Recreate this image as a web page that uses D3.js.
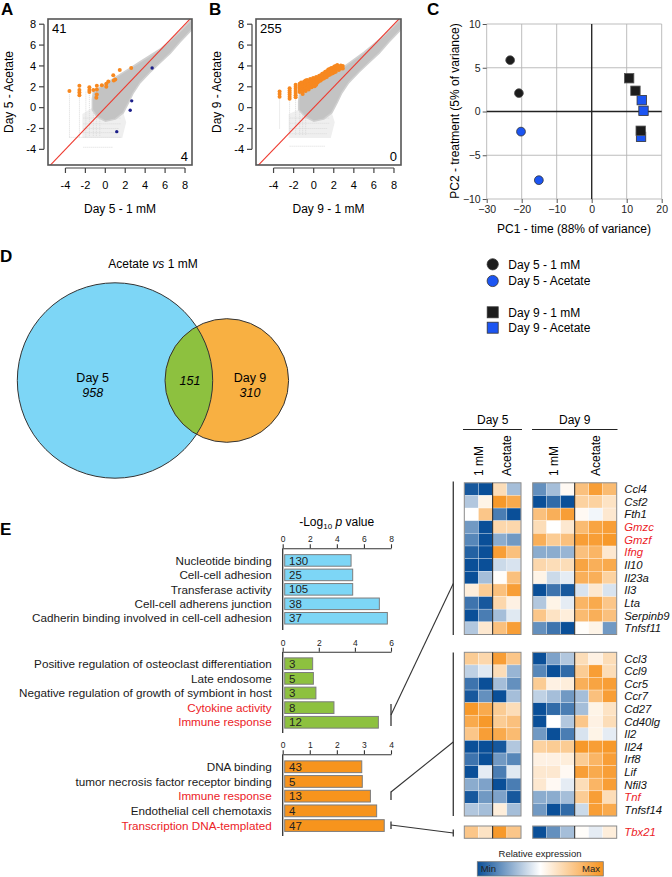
<!DOCTYPE html>
<html><head><meta charset="utf-8">
<script src="https://cdn.jsdelivr.net/npm/d3@7"></script>
<style>
body{margin:0;background:#fff;}
svg{display:block;font-family:"Liberation Sans",Arial,Helvetica,sans-serif;}
</style></head><body>
<svg id="fig" width="672" height="877"></svg>
<script>
// ================= DATA =================
const scatterTicks = [-4,-2,0,2,4,6,8];
// Panel A
const countsA = {up: 41, down: 4};
const cloudA = [[-1.3,0.8],[-1.2,1.5],[-0.5,2.0],[0.5,2.6],[1.5,3.2],[2.5,3.8],[3.5,4.4],[4.5,5.0],[5.5,5.6],[6.5,6.4],[7.5,7.3],[8.8,8.6],[8.8,7.6],[7.5,6.3],[6.5,5.2],[5.5,4.3],[4.5,3.4],[3.5,2.4],[2.8,1.4],[2.3,0.4],[1.8,-0.5],[1,-1.1],[0,-1.3],[-0.8,-0.9],[-1.3,-0.2]];
const sparseA = [[-2.3,-0.6],[-1.3,0.0],[-0.8,-0.9],[0,-1.3],[1,-1.1],[1.8,-0.5],[2.1,-1.4],[1.7,-2.9],[-2.3,-2.9]];
const stripesVA = [[-3.6,-2.85,1.3],[-2.6,-2.85,1.9],[-1.95,-2.85,1.6],[-1.6,-2.7,1.9],[-1.2,-2.7,1.6],[-0.9,-2.7,1.4],[-0.55,-2.7,1.0]];
const stripesHA = [[-1.0,-2.2,1.6],[-1.55,-2.2,1.6],[-2.0,-2.2,1.4],[-2.4,-2.2,1.3],[-2.85,-3.6,1.6],[-3.8,-2.2,0.8]];
const orangeA = [[-3.6,1.6],[-2.6,2.1],[-2.6,1.7],[-2.6,1.45],[-2.6,1.2],[-1.6,1.95],[-1.6,1.7],[-1.6,1.5],[-1.2,1.7],[-0.85,2.1],[-0.85,1.75],[-0.85,1.25],[-0.9,0.95],[-0.35,2.15],[0.1,2.0],[0.1,2.3],[0.3,2.5],[0.8,3.1],[1.0,2.7],[0.85,2.6],[1.45,3.6],[2.6,3.8]];
const blueA = [[4.7,3.8],[2.65,0.65],[2.5,-0.25],[1.15,-2.3]];
// Panel B
const countsB = {up: 255, down: 0};
const cloudB = [[-1.5,0.6],[-1.4,1.4],[-0.8,1.9],[0,2.2],[1,2.7],[2,3.3],[3,3.9],[4,4.6],[5,5.3],[6,6.1],[7,6.9],[8.8,8.6],[8.8,7.6],[7.5,6.3],[6.5,5.2],[5.5,4.3],[4.5,3.4],[3.5,2.4],[2.8,1.4],[2.3,0.4],[1.8,-0.5],[1,-1.1],[0,-1.3],[-0.8,-0.9],[-1.5,-0.2]];
const sparseB = [[-2.5,-0.6],[-1.5,-0.2],[-0.8,-0.9],[0,-1.3],[1,-1.1],[1.8,-0.5],[2.1,-1.4],[1.7,-2.9],[-2.5,-2.9]];
const stripesVB = [[-3.4,-2.0,1.0],[-2.4,-2.4,0.8],[-1.8,-2.6,1.0],[-1.4,-2.6,1.4],[-1.1,-2.6,1.2],[-0.8,-2.6,1.5]];
const stripesHB = [[-1.0,-2.4,1.6],[-1.5,-2.4,1.6],[-2.0,-2.4,1.4],[-2.5,-2.4,1.3],[-3.7,-2.4,1.1]];
const orangeBcols = [
  [-3.4,[1.55,1.3,1.05]],
  [-2.4,[1.85,1.65,1.45,1.25,1.05,0.85]],
  [-1.8,[2.2,2.0,1.8,1.6,1.4,1.2,1.0]],
  [-1.4,[2.3,2.1,1.9,1.7,1.5]],
  [-1.25,[2.4,2.15,1.95,1.7]],
  [-1.1,[2.2,2.0,1.8,1.55,1.3]],
  [-0.95,[2.5,2.25,2.0,1.75]],
  [-0.8,[2.6,2.35,2.1,1.85,1.6]],
  [-0.65,[2.65,2.4,2.15,1.9]],
  [-0.5,[2.5,2.25,2.0,1.75]],
  [-0.35,[2.75,2.5,2.25,2.0]],
  [-0.2,[2.7,2.45,2.2,1.95]],
  [-0.05,[2.85,2.6,2.35,2.1]],
  [0.1,[2.8,2.55,2.3,2.05]],
  [0.25,[2.95,2.7,2.45,2.2]],
  [0.4,[2.9,2.65,2.4]],
  [0.55,[3.05,2.8,2.55]],
  [0.7,[3.1,2.85,2.6]],
  [0.85,[3.25,3.0,2.75]],
  [1.0,[3.3,3.05,2.8]],
  [1.15,[3.45,3.15,2.9]],
  [1.3,[3.5,3.2,2.95]],
  [1.45,[3.65,3.35,3.1]],
  [1.6,[3.7,3.4,3.15]],
  [1.75,[3.8,3.5,3.25]],
  [1.9,[3.8,3.55,3.3]],
  [2.05,[3.95,3.65,3.4]],
  [2.2,[4.0,3.7,3.45]],
  [2.35,[4.1,3.8]],
  [2.5,[3.85,3.6]],
  [2.7,[4.05,3.75]],
  [2.9,[4.0,3.75]]
];
// Panel C (PCA)
const pcaGroups = ["Day 5 - 1 mM","Day 5 - Acetate","Day 9 - 1 mM","Day 9 - Acetate"];
const pcaD5_1mM = [[-23.3,5.87],[-20.8,2.1]];
const pcaD5_Ac  = [[-20.2,-2.3],[-15.1,-7.85]];
const pcaD9_1mM = [[10.7,3.8],[12.5,2.37],[14.0,-2.2]];
const pcaD9_Ac  = [[14.3,1.3],[14.8,0.08],[14.1,-2.9]];
const pcaXTicks = [-30,-20,-10,0,10,20];
const pcaYTicks = [-10,-5,0,5,10];
// Panel D (Venn)
const vennSets = ["Day 5","Day 9"];
const vennOnly = [958, 310];
const vennShared = 151;
// Panel E (GO bars)
const goTopTerms = ["Nucleotide binding","Cell-cell adhesion","Transferase activity","Cell-cell adherens junction","Cadherin binding involved in cell-cell adhesion"];
const goTopLogP = [5.05,5.17,5.17,7.14,7.73];
const goTopCounts = [130,25,105,38,37];
const goTopTicks = [0,2,4,6,8];
const goMidTerms = ["Positive regulation of osteoclast differentiation","Late endosome","Negative regulation of growth of symbiont in host","Cytokine activity","Immune response"];
const goMidLogP = [1.66,1.70,1.84,2.84,5.3];
const goMidCounts = [3,5,3,8,12];
const goMidTicks = [0,2,4,6];
const goBotTerms = ["DNA binding","tumor necrosis factor receptor binding","Immune response","Endothelial cell chemotaxis","Transcription DNA-templated"];
const goBotLogP = [2.92,2.94,3.24,3.47,3.75];
const goBotCounts = [43,5,13,4,47];
const goBotTicks = [0,1,2,3,4];
const highlightedTerms = ["Cytokine activity","Immune response","Transcription DNA-templated"];
// Heatmap
const heatCols5 = ["1 mM","1 mM ","Acetate","Acetate "];
const heatCols9 = ["1 mM","1 mM ","1 mM  ","Acetate","Acetate ","Acetate  "];
const heatTopGenes = ["Ccl4","Csf2","Fth1","Gmzc","Gmzf","Ifng","Il10","Il23a","Il3","Lta","Serpinb9","Tnfsf11"];
const heatTopDay5 = [
 [-0.9,-0.95,0.3,-0.35],[-0.3,0.1,0.9,0.75],[0,0.5,-0.7,-0.95],[-0.55,-0.95,0.35,0.35],
 [-0.65,-0.95,-0.45,-0.55],[-0.85,-0.95,0.85,0.55],[-0.95,-0.95,-0.2,-0.15],[-0.95,-0.35,0.02,0.55],
 [0.15,0.45,0.55,0.85],[-0.75,-0.9,0.35,0.12],[-0.95,-0.7,-0.35,-0.12],[-0.3,0.2,0.55,0.85]];
const heatTopDay9 = [
 [-0.6,-0.35,0.05,0.55,0.85,0.6],[-0.95,-0.8,-0.95,0.4,0.4,0.25],[0.55,0.7,0.85,0.05,-0.05,0.2],
 [0.3,0,0.2,0.6,0.8,0.85],[0.7,0.45,0.55,0.85,0.85,0.9],[-0.45,-0.45,-0.4,0.55,0.65,0.2],
 [0.35,0.3,0.3,0.8,0.7,0.75],[0.1,-0.2,-0.1,0.7,0.7,0.4],[-0.95,-0.75,-0.9,-0.15,0.2,-0.15],
 [-0.3,0.1,-0.1,0.65,0.75,0.5],[0.5,0.25,0.15,0.6,0.7,0.55],[-0.6,-0.75,-0.95,0.02,0.1,-0.55]];
const heatMidGenes = ["Ccl3","Ccl9","Ccr5","Ccr7","Cd27","Cd40lg","Il2","Il24","Irf8","Lif","Nfil3","Tnf","Tnfsf14"];
const heatMidDay5 = [
 [0.45,0.35,0.85,0.5],[-0.25,-0.12,0.3,-0.4],[-0.75,-0.95,-0.35,-0.6],[-0.9,-0.6,-0.95,-0.35],
 [0.9,0.75,0.45,0.3],[0.75,0.9,0.45,0.55],[0.5,0.85,0.75,0.6],[-0.95,-0.95,-0.9,-0.3],
 [-0.75,-0.95,-0.55,-0.65],[-0.95,-0.1,-0.7,-0.12],[-0.45,-0.5,-0.95,-0.7],[-0.9,-0.55,-0.5,-0.9],
 [-0.3,-0.35,0.15,-0.35]];
const heatMidDay9 = [
 [-0.95,-0.5,-0.3,0.3,0.12,0.3],[-0.65,-0.95,-0.8,0.45,0.85,0.3],[0.45,0.12,0.15,0.7,0.8,0.85],
 [-0.25,-0.35,-0.55,-0.35,0.55,0.85],[-0.95,-0.8,-0.7,-0.35,0.1,0.25],[-0.95,0,-0.3,0.5,0.12,0.3],
 [-0.55,-0.95,-0.7,-0.15,0.1,-0.1],[0.4,0.45,0.45,0.9,0.85,0.9],[0.12,0.12,0.15,0.45,0.65,0.85],
 [0.2,0.2,0.05,0.85,0.75,0.85],[0.2,0.05,-0.1,0.3,0.65,0.85],[-0.45,-0.45,-0.35,0.45,0.85,0.3],
 [-0.55,-0.95,-0.8,-0.2,0.85,0.75]];
const heatBotGenes = ["Tbx21"];
const heatBotDay5 = [[0.5,0.25,0.9,0.5]];
const heatBotDay9 = [[-0.95,-0.6,-0.35,0.02,-0.1,0.15]];
const redGenes = ["Gmzc","Gmzf","Ifng","Tnf","Tbx21"];

// ================= DRAWING =================
const svg = d3.select("#fig");
const RED = "#ec2227";
const defs = svg.append("defs");

[["A",1,15],["B",209,15],["C",427,15],["D",0,262],["E",0,535]].forEach(([t,x,y])=>{
  svg.append("text").attr("x",x).attr("y",y).attr("font-size",17).attr("font-weight","bold").text(t);
});

function line2(g,x1,y1,x2,y2,stroke,w,dash){
  const l=g.append("line").attr("x1",x1).attr("y1",y1).attr("x2",x2).attr("y2",y2).attr("stroke",stroke).attr("stroke-width",w);
  if(dash) l.attr("stroke-dasharray",dash);
  return l;
}

// ---------- Scatter panels A,B ----------
function scatter(cfg){
  const x = d3.scaleLinear().domain([-5.75,8.7]).range([cfg.x0,cfg.x1]);
  const y = d3.scaleLinear().domain([-5.5,8.5]).range([165,19]);
  const g = svg.append("g");
  defs.append("clipPath").attr("id","clip"+cfg.id).append("rect")
    .attr("x",cfg.x0).attr("y",19).attr("width",cfg.x1-cfg.x0).attr("height",146);
  const inner = g.append("g").attr("clip-path",`url(#clip${cfg.id})`);
  const ln = d3.line().x(d=>x(d[0])).y(d=>y(d[1])).curve(d3.curveLinearClosed);
  inner.append("path").attr("d",ln(cfg.sparse)).attr("fill","#efefef");
  cfg.stripesV.forEach(s=>line2(inner,x(s[0]),y(s[1]),x(s[0]),y(s[2]),"#d9d9d9",1,"1,1"));
  cfg.stripesH.forEach(s=>line2(inner,x(s[1]),y(s[0]),x(s[2]),y(s[0]),"#dadada",1,"1,1"));
  inner.append("path").attr("d",ln(cfg.cloud)).attr("fill","#c3c3c3").attr("stroke","#d0d0d0").attr("stroke-width",1.5).attr("stroke-linejoin","round");
  line2(inner,x(-6),y(-6),x(9),y(9),"#ee3a2f",1.1);
  inner.selectAll(".o").data(cfg.orange).join("circle").attr("cx",d=>x(d[0])).attr("cy",d=>y(d[1])).attr("r",cfg.or).attr("fill","#f7881f");
  inner.selectAll(".b").data(cfg.blue).join("circle").attr("cx",d=>x(d[0])).attr("cy",d=>y(d[1])).attr("r",1.7).attr("fill","#1c1f8a");
  g.append("rect").attr("x",cfg.x0).attr("y",19).attr("width",cfg.x1-cfg.x0).attr("height",146)
    .attr("fill","none").attr("stroke","#555").attr("stroke-width",1.6);
  const ax = cfg.x0-4;
  line2(g,ax,y(-4),ax,y(8),"#444",1.2);
  scatterTicks.forEach(t=>{
    line2(g,ax-5,y(t),ax,y(t),"#444",1.2);
    g.append("text").attr("x",ax-8).attr("y",y(t)).attr("dy","0.35em").attr("text-anchor","end").attr("font-size",11).text(t);
  });
  const ay = 168;
  line2(g,x(-4),ay,x(8),ay,"#444",1.2);
  scatterTicks.forEach(t=>{
    line2(g,x(t),ay,x(t),ay+5,"#444",1.2);
    g.append("text").attr("x",x(t)).attr("y",189).attr("text-anchor","middle").attr("font-size",11).text(t);
  });
  g.append("text").attr("x",cfg.x0+4).attr("y",33).attr("font-size",13).text(cfg.up);
  g.append("text").attr("x",cfg.x1-4).attr("y",161).attr("text-anchor","end").attr("font-size",13).text(cfg.down);
  g.append("text").attr("x",(cfg.x0+cfg.x1)/2).attr("y",213).attr("text-anchor","middle").attr("font-size",12).text(cfg.xlab);
  g.append("text").attr("transform",`translate(${cfg.ylx},92) rotate(-90)`).attr("text-anchor","middle").attr("dy","0.35em").attr("font-size",12).text(cfg.ylab);
}
scatter({id:"A",x0:48,x1:192,cloud:cloudA,sparse:sparseA,stripesV:stripesVA,stripesH:stripesHA,orange:orangeA,or:2,blue:blueA,up:countsA.up,down:countsA.down,xlab:"Day 5 - 1 mM",ylab:"Day 5 - Acetate",ylx:9});
const orangeB = orangeBcols.flatMap(([xv,ys])=>ys.map(yv=>[xv,yv]));
scatter({id:"B",x0:256,x1:401,cloud:cloudB,sparse:sparseB,stripesV:stripesVB,stripesH:stripesHB,orange:orangeB,or:2,blue:[],up:countsB.up,down:countsB.down,xlab:"Day 9 - 1 mM",ylab:"Day 9 - Acetate",ylx:217});

// ---------- Panel C PCA ----------
(function(){
  const x = d3.scaleLinear().domain([-30,20]).range([486.7,661.7]);
  const y = d3.scaleLinear().domain([-10,10]).range([199,24]);
  const g = svg.append("g");
  pcaXTicks.forEach(t=>line2(g,x(t),y(10),x(t),y(-10),"#b5b5b5",0.9));
  pcaYTicks.forEach(t=>line2(g,x(-30),y(t),x(20),y(t),"#b5b5b5",0.9));
  line2(g,x(0),y(10),x(0),y(-10),"#222",1.3);
  line2(g,x(-30),y(0),x(20),y(0),"#222",1.3);
  const ya = g.append("g").attr("transform",`translate(${x(-30)},0)`)
    .call(d3.axisLeft(y).tickValues(pcaYTicks).tickSize(4).tickPadding(2));
  const xa = g.append("g").attr("transform",`translate(0,${y(-10)})`)
    .call(d3.axisBottom(x).tickValues(pcaXTicks).tickSize(4).tickPadding(3));
  [ya,xa].forEach(a=>{a.select(".domain").remove();a.selectAll("text").attr("font-size",10.5).attr("font-family",null).attr("fill","#222");a.selectAll("line").attr("stroke","#555");});
  g.append("text").attr("x",574).attr("y",233).attr("text-anchor","middle").attr("font-size",12).text("PC1 - time (88% of variance)");
  g.append("text").attr("transform","translate(455,111) rotate(-90)").attr("text-anchor","middle").attr("dy","0.35em").attr("font-size",12).text("PC2 - treatment (5% of variance)");
  const sq=9.4;
  g.selectAll(".bs").data(pcaD9_Ac).join("rect").attr("x",d=>x(d[0])-sq/2).attr("y",d=>y(d[1])-sq/2).attr("width",sq).attr("height",sq).attr("fill","#1c55f2").attr("stroke","#333").attr("stroke-width",0.8);
  g.selectAll(".ks").data(pcaD9_1mM).join("rect").attr("x",d=>x(d[0])-sq/2).attr("y",d=>y(d[1])-sq/2).attr("width",sq).attr("height",sq).attr("fill","#1c1c1c").attr("stroke","#555").attr("stroke-width",0.8);
  g.selectAll(".bc").data(pcaD5_Ac).join("circle").attr("cx",d=>x(d[0])).attr("cy",d=>y(d[1])).attr("r",4.4).attr("fill","#1c55f2").attr("stroke","#333").attr("stroke-width",0.8);
  g.selectAll(".kc").data(pcaD5_1mM).join("circle").attr("cx",d=>x(d[0])).attr("cy",d=>y(d[1])).attr("r",4.4).attr("fill","#1c1c1c").attr("stroke","#555").attr("stroke-width",0.8);
  const ly = [264.3,281,312.3,327.7];
  pcaGroups.forEach((name,i)=>{
    const fill = i%2===0 ? "#1c1c1c" : "#1c55f2";
    if(i<2) g.append("circle").attr("cx",492.7).attr("cy",ly[i]).attr("r",5.6).attr("fill",fill).attr("stroke","#333").attr("stroke-width",0.8);
    else g.append("rect").attr("x",487.2).attr("y",ly[i]-5.5).attr("width",11).attr("height",11).attr("fill",fill).attr("stroke","#333").attr("stroke-width",0.8);
    g.append("text").attr("x",508.3).attr("y",ly[i]).attr("dy","0.35em").attr("font-size",12).text(name);
  });
})();

// ---------- Panel D Venn ----------
(function(){
  const g = svg.append("g");
  const c1={x:115,y:380.5,r:97.7}, c2={x:226.8,y:380.5,r:61.8};
  g.append("text").attr("x",153).attr("y",268).attr("text-anchor","middle").attr("font-size",12)
    .call(t=>{t.append("tspan").text("Acetate ");t.append("tspan").attr("font-style","italic").text("vs");t.append("tspan").text(" 1 mM");});
  defs.append("clipPath").attr("id","vennclip").append("circle").attr("cx",c1.x).attr("cy",c1.y).attr("r",c1.r);
  g.append("circle").attr("cx",c1.x).attr("cy",c1.y).attr("r",c1.r).attr("fill","#7dd6f6");
  g.append("circle").attr("cx",c2.x).attr("cy",c2.y).attr("r",c2.r).attr("fill","#f8b042");
  g.append("circle").attr("cx",c2.x).attr("cy",c2.y).attr("r",c2.r).attr("fill","#8dc13f").attr("clip-path","url(#vennclip)");
  [c1,c2].forEach(c=>g.append("circle").attr("cx",c.x).attr("cy",c.y).attr("r",c.r).attr("fill","none").attr("stroke","#333").attr("stroke-width",1));
  g.append("text").attr("x",92.7).attr("y",381.5).attr("text-anchor","middle").attr("font-size",12.5).text(vennSets[0]);
  g.append("text").attr("x",92.7).attr("y",396.5).attr("text-anchor","middle").attr("font-size",12.5).attr("font-style","italic").text(vennOnly[0]);
  g.append("text").attr("x",190).attr("y",385).attr("text-anchor","middle").attr("font-size",12.5).attr("font-style","italic").text(vennShared);
  g.append("text").attr("x",250).attr("y",381.5).attr("text-anchor","middle").attr("font-size",12.5).text(vennSets[1]);
  g.append("text").attr("x",250).attr("y",396.5).attr("text-anchor","middle").attr("font-size",12.5).attr("font-style","italic").text(vennOnly[1]);
})();

// ---------- Panel E bars ----------
svg.append("text").attr("x",336.7).attr("y",526).attr("text-anchor","middle").attr("font-size",12)
  .call(t=>{t.append("tspan").text("-Log");t.append("tspan").attr("font-size",8).attr("dy",3).text("10");
    t.append("tspan").attr("dy",-3).text(" ");t.append("tspan").attr("font-style","italic").text("p");t.append("tspan").text(" value");});
function bars(terms,vals,counts,ticks,color,axisY,r0,r1,axisEnd,useRed){
  const g = svg.append("g");
  const x = d3.scaleLinear().domain([0,ticks[ticks.length-1]]).range([282.7,391]);
  const y = d3.scaleBand().domain(terms).range([r0,r1]).paddingInner(0.2).paddingOuter(0.1);
  const a = g.append("g").attr("transform",`translate(0,${axisY})`)
    .call(d3.axisTop(x).tickValues(ticks).tickFormat(d3.format("d")).tickSize(4).tickSizeOuter(0).tickPadding(2));
  a.selectAll("text").attr("font-size",8.5).attr("font-family",null).attr("fill","#222");
  a.selectAll("line,path").attr("stroke","#333").attr("stroke-width",1.1);
  line2(g,282.7,axisY,282.7,axisEnd,"#333",1.3);
  g.selectAll("rect").data(terms).join("rect").attr("x",x(0)+2).attr("y",d=>y(d)).attr("width",(d,i)=>x(vals[i])-x(0)-2)
    .attr("height",y.bandwidth()).attr("fill",color).attr("stroke","#7d7d7d").attr("stroke-width",1);
  g.selectAll(".cnt").data(terms).join("text").attr("x",289).attr("y",d=>y(d)+y.bandwidth()/2).attr("dy","0.36em")
    .attr("font-size",11.5).attr("fill","#222").text((d,i)=>counts[i]);
  g.selectAll(".lab").data(terms).join("text").attr("x",271.7).attr("y",d=>y(d)+y.bandwidth()/2).attr("dy","0.36em")
    .attr("text-anchor","end").attr("font-size",11.7).attr("fill",d=>(useRed && highlightedTerms.includes(d)) ? RED : "#1a1a1a").text(d=>d);
}
bars(goTopTerms,goTopLogP,goTopCounts,goTopTicks,"#7dd6f6",548.3,553.2,625.5,630,false);
bars(goMidTerms,goMidLogP,goMidCounts,goMidTicks,"#8dc13f",651.7,656.4,729.6,733,true);
bars(goBotTerms,goBotLogP,goBotCounts,goBotTicks,"#f7941d",754.3,759.4,832.9,836,true);

// ---------- Heatmap ----------
const heatColor = d3.scaleLinear().domain([-0.95,0,0.95]).range(["#0a4f98","#ffffff","#f7931e"]).clamp(true);
const c5 = d3.scaleBand().domain(heatCols5).range([464.3,521]);
const c9 = d3.scaleBand().domain(heatCols9).range([532.7,616.7]);
function heatBlock(genes,d5,d9,top,bottom){
  const g = svg.append("g");
  const r = d3.scaleBand().domain(genes).range([top,bottom]);
  [[c5,d5,heatCols5],[c9,d9,heatCols9]].forEach(([cs,vals,cols])=>{
    genes.forEach((gene,i)=>{
      cols.forEach((c,j)=>{
        g.append("rect").attr("x",cs(c)).attr("y",r(gene)).attr("width",cs.bandwidth()).attr("height",r.bandwidth())
          .attr("fill",heatColor(vals[i][j])).attr("stroke","rgba(255,255,255,0.45)").attr("stroke-width",0.6);
      });
    });
    g.append("rect").attr("x",cs.range()[0]).attr("y",top).attr("width",cs.range()[1]-cs.range()[0]).attr("height",bottom-top)
      .attr("fill","none").attr("stroke","#8a8a8a").attr("stroke-width",1);
  });
  line2(g,c5("Acetate"),top,c5("Acetate"),bottom,"#222",1);
  line2(g,c9("Acetate"),top,c9("Acetate"),bottom,"#222",1);
  g.selectAll(".gl").data(genes).join("text").attr("x",624.3).attr("y",d=>r(d)+r.bandwidth()/2).attr("dy","0.36em")
    .attr("font-size",11.3).attr("font-style","italic").attr("fill",d=>redGenes.includes(d)?RED:"#111").text(d=>d);
}
heatBlock(heatTopGenes,heatTopDay5,heatTopDay9,482.8,634.5);
heatBlock(heatMidGenes,heatMidDay5,heatMidDay9,652.3,816);
heatBlock(heatBotGenes,heatBotDay5,heatBotDay9,826,838.3);

(function(){
  const g = svg.append("g");
  g.append("text").attr("x",(c5.range()[0]+c5.range()[1])/2).attr("y",424).attr("text-anchor","middle").attr("font-size",12).text("Day 5");
  g.append("text").attr("x",(c9.range()[0]+c9.range()[1])/2).attr("y",424).attr("text-anchor","middle").attr("font-size",12).text("Day 9");
  line2(g,463,429.5,522,429.5,"#222",1);
  line2(g,532,429.5,617.5,429.5,"#222",1);
  const lab = [[c5("1 mM")+c5.bandwidth(),"1 mM"],[c5("Acetate")+c5.bandwidth(),"Acetate"],[c9("1 mM ")+c9.bandwidth()/2,"1 mM"],[c9("Acetate ")+c9.bandwidth()/2,"Acetate"]];
  lab.forEach(([x,t])=>g.append("text").attr("transform",`translate(${x},476) rotate(-90)`).attr("dy","0.36em").attr("font-size",12).text(t));
  line2(g,453.3,481.5,453.3,635,"#444",1.4);
  line2(g,453.3,652.5,453.3,816,"#444",1.4);
  line2(g,453.3,829.5,453.3,836.5,"#444",1.4);
  line2(g,391,704,391,726,"#444",1.4);
  line2(g,391,715,453.3,583.5,"#333",1.1);
  line2(g,391,791.5,391,800,"#444",1.4);
  line2(g,391,792,453.3,742,"#333",1.1);
  line2(g,391,821.5,391,829,"#444",1.4);
  line2(g,391,825,453.3,833,"#333",1.1);
  const grad = defs.append("linearGradient").attr("id","cbar");
  [[0,-0.95],[0.5,0],[1,0.95]].forEach(([o,v])=>grad.append("stop").attr("offset",o).attr("stop-color",heatColor(v)));
  g.append("text").attr("x",540).attr("y",857).attr("text-anchor","middle").attr("font-size",9.5).attr("fill","#222").text("Relative expression");
  g.append("rect").attr("x",477.3).attr("y",861.7).attr("width",126).attr("height",14.3).attr("fill","url(#cbar)").attr("stroke","#777").attr("stroke-width",0.8);
  g.append("text").attr("x",480.7).attr("y",869).attr("dy","0.35em").attr("font-size",9.5).attr("fill","#222").text("Min");
  g.append("text").attr("x",600).attr("y",869).attr("dy","0.35em").attr("text-anchor","end").attr("font-size",9.5).attr("fill","#222").text("Max");
})();
</script></body></html>
